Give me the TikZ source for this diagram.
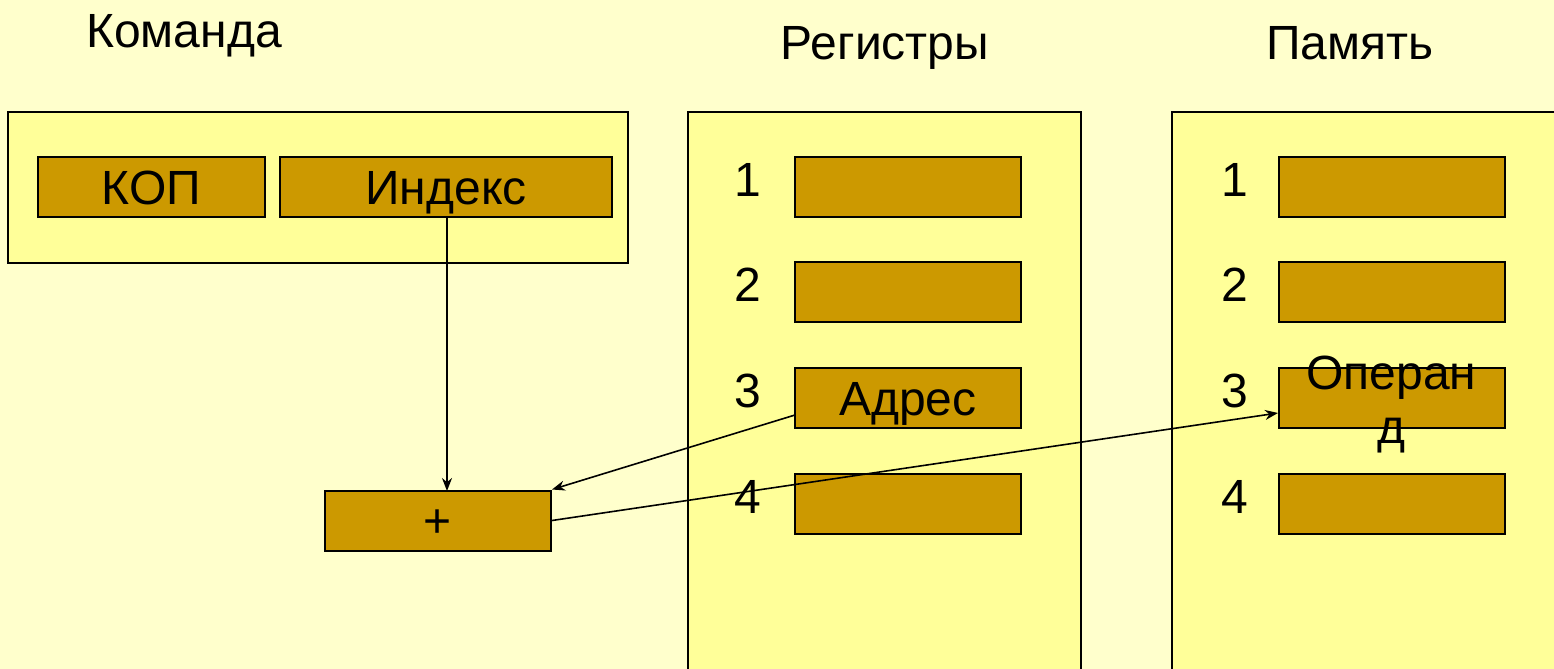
\documentclass[tikz,border=0pt]{standalone}
\usepackage{fontspec}
\setmainfont{Liberation Sans}
\usetikzlibrary{arrows.meta}
\definecolor{pagebg}{HTML}{FFFFCC}
\definecolor{panelfill}{HTML}{FFFF99}
\definecolor{cellfill}{HTML}{CC9900}
\tikzset{
  cell/.style={draw=black, line width=1pt, fill=cellfill, inner sep=0pt,
    minimum width=113pt, minimum height=30pt,
    text height=17pt, text depth=0pt,
    font=\fontsize{24}{27}\selectfont, align=center},
  title/.style={font=\fontsize{24}{27}\selectfont, anchor=base},
  num/.style={font=\fontsize{24}{27}\selectfont},
  panel/.style={line width=1.3pt, fill=panelfill},
  link/.style={line width=0.8pt, -{Stealth[length=6.5pt,width=5pt]}}
}
\begin{document}
\begin{tikzpicture}[x=0.5pt,y=-0.5pt]
  % page
  \fill[pagebg] (0,0) rectangle (1554,669);
  \useasboundingbox (0,0) rectangle (1554,669);

  % titles
  \node[title] (tcmd) at (184,47) {Команда};
  \node[title] (treg) at (885,60) {Регистры};
  \node[title] (tmem) at (1350,60) {Память};

  % instruction word
  \draw[panel] (8,112) rectangle (628,263);
  \node[cell, minimum width=113.5pt] (kop) at (151.5,187) {КОП};
  \node[cell, minimum width=166pt] (idx) at (446,187) {Индекс};

  % register file and memory panels (they run off the bottom edge)
  \fill[panelfill] (688,112) rectangle (1081,680);
  \draw[panel] (688,680) -- (688,112) -- (1081,112) -- (1081,680);
  \fill[panelfill] (1172,112) rectangle (1560,680);
  \draw[panel] (1172,680) -- (1172,112) -- (1560,112);

  % registers
  \node[cell] (r1) at (908,187) {};
  \node[cell] (r2) at (908,292) {};
  \node[cell] (r3) at (908,398) {Адрес};
  \node[cell] (r4) at (908,504) {};
  \node[num] (rn1) at (748,180) {1};
  \node[num] (rn2) at (748,285) {2};
  \node[num] (rn3) at (748,391) {3};
  \node[num] (rn4) at (748,497) {4};

  % memory cells
  \node[cell] (m1) at (1391.5,187) {};
  \node[cell] (m2) at (1391.5,292) {};
  \node[cell] (m3) at (1391.5,398) {};
  \node[num, align=center] (m3txt) at (1391.5,405) {Операн\\д};
  \node[cell] (m4) at (1391.5,504) {};
  \node[num] (mn1) at (1235,180) {1};
  \node[num] (mn2) at (1235,285) {2};
  \node[num] (mn3) at (1235,391) {3};
  \node[num] (mn4) at (1235,497) {4};

  % adder
  \node[cell] (plus) at (438,520.5) {+};

  % data paths
  \coordinate (idxout) at (447,217);
  \coordinate (plusin) at (447,491);
  \draw[link] (idxout) -- (plusin);
  \coordinate (addrout) at (795,415);
  \draw[link] (addrout) -- (plus.north east);
  \coordinate (opin) at (1278,413);
  \draw[link] (plus.east) -- (opin);
\end{tikzpicture}
\end{document}
